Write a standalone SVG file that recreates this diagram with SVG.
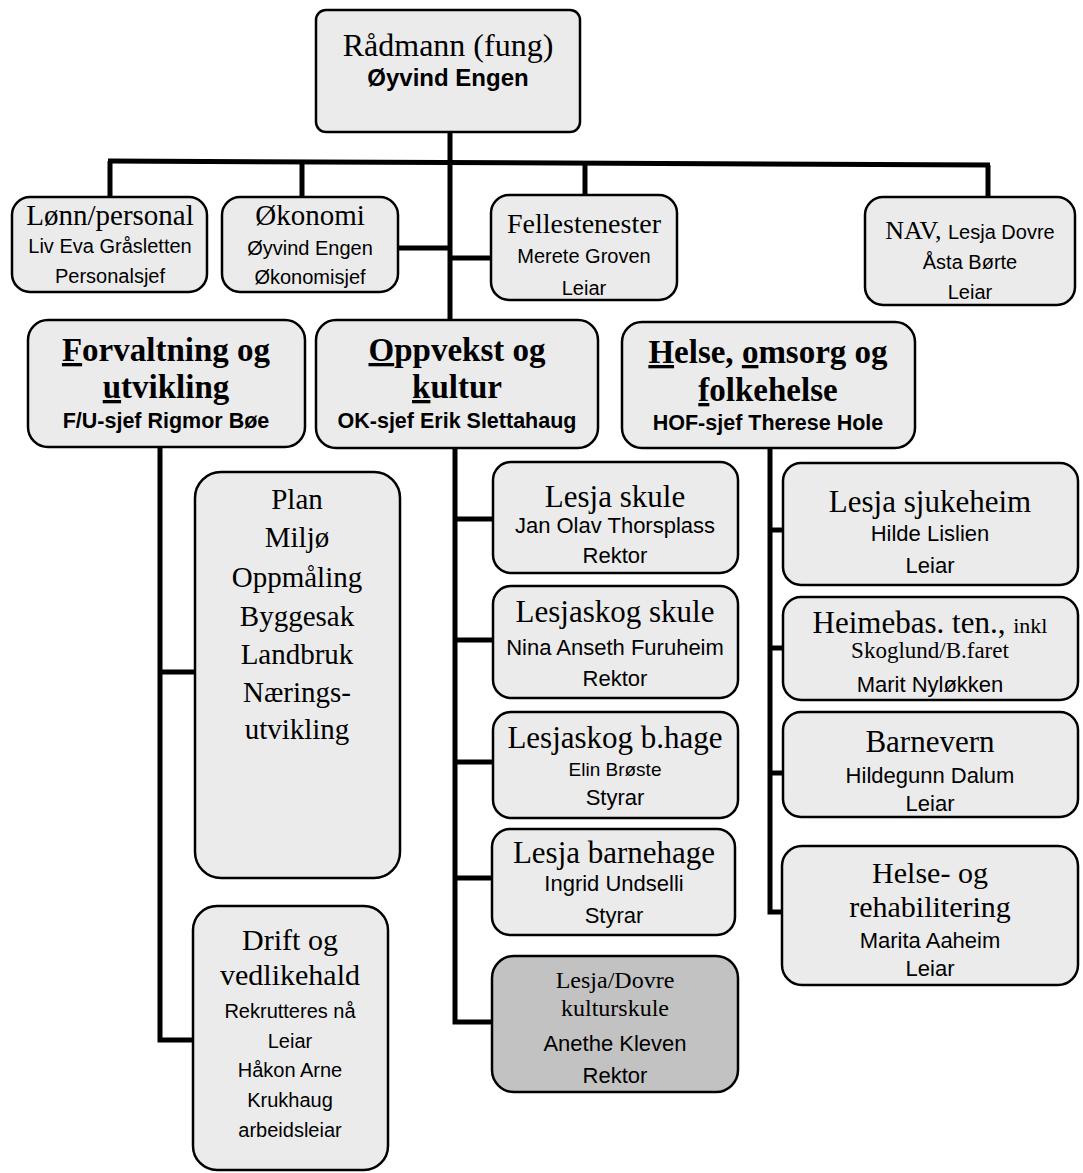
<svg xmlns="http://www.w3.org/2000/svg" width="1083" height="1173" viewBox="0 0 1083 1173">
<style>
.box{fill:#ebebeb;stroke:#000;stroke-width:2.5}
.dark{fill:#c2c2c2}
.con{fill:none;stroke:#000;stroke-width:5}
text{text-anchor:middle;fill:#000}
.s{font-family:"Liberation Serif","Times New Roman",serif}
.a{font-family:"Liberation Sans",Arial,sans-serif}
.t{font-size:31px}
.p{font-size:29px}
.h{font-size:33px;font-weight:bold}
.n{font-size:20px}
.m{font-size:22px}
.hb{font-size:21.5px;font-weight:bold}
.b{font-weight:bold}
.u{text-decoration:underline}
</style>
<rect width="1083" height="1173" fill="#fff"/>
<g id="connectors">
<line class="con" x1="450" y1="132" x2="450" y2="320"/>
<line class="con" x1="108" y1="161" x2="990" y2="165"/>
<line class="con" x1="110" y1="161" x2="110" y2="197"/>
<line class="con" x1="302" y1="162" x2="302" y2="197"/>
<line class="con" x1="585" y1="163" x2="585" y2="195"/>
<line class="con" x1="988" y1="165" x2="988" y2="197"/>
<line class="con" x1="398" y1="248" x2="450" y2="248"/>
<line class="con" x1="450" y1="258" x2="491" y2="258"/>
<polyline class="con" points="160,447 160,1040 193,1040"/>
<line class="con" x1="160" y1="672" x2="195" y2="672"/>
<polyline class="con" points="455,448 455,1022 492,1022"/>
<line class="con" x1="455" y1="519" x2="493" y2="519"/>
<line class="con" x1="455" y1="640" x2="493" y2="640"/>
<line class="con" x1="455" y1="762" x2="493" y2="762"/>
<line class="con" x1="455" y1="878" x2="492" y2="878"/>
<polyline class="con" points="770,448 770,912 782,912"/>
<line class="con" x1="770" y1="530" x2="783" y2="530"/>
<line class="con" x1="770" y1="648" x2="783" y2="648"/>
<line class="con" x1="770" y1="773" x2="783" y2="773"/>
</g>
<g id="radmann">
<rect class="box" x="316" y="10" width="264" height="122" rx="10"/>
<text class="s" x="448" y="56" font-size="32">Rådmann (fung)</text>
<text class="a b" x="448" y="86" font-size="24">Øyvind Engen</text>
</g>
<g id="lonn">
<rect class="box" x="12" y="197" width="195" height="95" rx="18"/>
<text class="s" x="110" y="225" font-size="29">Lønn/personal</text>
<text class="a n" x="110" y="253">Liv Eva Gråsletten</text>
<text class="a n" x="110" y="283">Personalsjef</text>
</g>
<g id="okonomi">
<rect class="box" x="222" y="197" width="176" height="95" rx="18"/>
<text class="s" x="310" y="225" font-size="29">Økonomi</text>
<text class="a n" x="310" y="255">Øyvind Engen</text>
<text class="a n" x="310" y="284">Økonomisjef</text>
</g>
<g id="fellestenester">
<rect class="box" x="491" y="195" width="186" height="105" rx="18"/>
<text class="s" x="584" y="233" font-size="28">Fellestenester</text>
<text class="a n" x="584" y="263">Merete Groven</text>
<text class="a n" x="584" y="295">Leiar</text>
</g>
<g id="nav">
<rect class="box" x="865" y="197" width="210" height="108" rx="18"/>
<text x="970" y="239"><tspan class="s" font-size="26">NAV, </tspan><tspan class="a n">Lesja Dovre</tspan></text>
<text class="a n" x="970" y="269">Åsta Børte</text>
<text class="a n" x="970" y="299">Leiar</text>
</g>
<g id="forvaltning">
<rect class="box" x="28" y="320" width="277" height="127" rx="20"/>
<text class="s h" x="166" y="361"><tspan class="u">F</tspan>orvaltning og</text>
<text class="s h" x="166" y="398"><tspan class="u">u</tspan>tvikling</text>
<text class="a hb" x="166" y="428">F/U-sjef Rigmor Bøe</text>
</g>
<g id="oppvekst">
<rect class="box" x="316" y="320" width="282" height="128" rx="20"/>
<text class="s h" x="457" y="361"><tspan class="u">O</tspan>ppvekst og</text>
<text class="s h" x="457" y="398"><tspan class="u">k</tspan>ultur</text>
<text class="a hb" x="457" y="428">OK-sjef Erik Slettahaug</text>
</g>
<g id="helse">
<rect class="box" x="622" y="322" width="293" height="126" rx="20"/>
<text class="s h" x="768" y="363"><tspan class="u">H</tspan>else, <tspan class="u">o</tspan>msorg og</text>
<text class="s h" x="768" y="401"><tspan class="u">f</tspan>olkehelse</text>
<text class="a hb" x="768" y="430">HOF-sjef Therese Hole</text>
</g>
<g id="plan">
<rect class="box" x="195" y="472" width="205" height="406" rx="26"/>
<text class="s p" x="297" y="509">Plan</text>
<text class="s p" x="297" y="547">Miljø</text>
<text class="s p" x="297" y="587">Oppmåling</text>
<text class="s p" x="297" y="626">Byggesak</text>
<text class="s p" x="297" y="664">Landbruk</text>
<text class="s p" x="297" y="702">Nærings-</text>
<text class="s p" x="297" y="739">utvikling</text>
</g>
<g id="drift">
<rect class="box" x="193" y="906" width="195" height="264" rx="24"/>
<text class="s" x="290" y="950" font-size="30">Drift og</text>
<text class="s" x="290" y="985" font-size="30">vedlikehald</text>
<text class="a n" x="290" y="1018">Rekrutteres nå</text>
<text class="a n" x="290" y="1048">Leiar</text>
<text class="a n" x="290" y="1077">Håkon Arne</text>
<text class="a n" x="290" y="1107">Krukhaug</text>
<text class="a n" x="290" y="1137">arbeidsleiar</text>
</g>
<g id="lesja-skule">
<rect class="box" x="493" y="462" width="245" height="111" rx="18"/>
<text class="s t" x="615" y="507">Lesja skule</text>
<text class="a m" x="615" y="533">Jan Olav Thorsplass</text>
<text class="a m" x="615" y="563">Rektor</text>
</g>
<g id="lesjaskog-skule">
<rect class="box" x="493" y="586" width="245" height="112" rx="18"/>
<text class="s t" x="615" y="622">Lesjaskog skule</text>
<text class="a m" x="615" y="655">Nina Anseth Furuheim</text>
<text class="a m" x="615" y="686">Rektor</text>
</g>
<g id="lesjaskog-bhage">
<rect class="box" x="493" y="712" width="245" height="106" rx="18"/>
<text class="s t" x="615" y="748">Lesjaskog b.hage</text>
<text class="a" x="615" y="776" font-size="19">Elin Brøste</text>
<text class="a m" x="615" y="805">Styrar</text>
</g>
<g id="lesja-barnehage">
<rect class="box" x="492" y="829" width="243" height="106" rx="18"/>
<text class="s t" x="614" y="863">Lesja barnehage</text>
<text class="a m" x="614" y="891">Ingrid Undselli</text>
<text class="a m" x="614" y="923">Styrar</text>
</g>
<g id="kulturskule">
<rect class="box dark" x="492" y="956" width="246" height="136" rx="22"/>
<text class="s" x="615" y="988" font-size="24">Lesja/Dovre</text>
<text class="s" x="615" y="1016" font-size="24">kulturskule</text>
<text class="a m" x="615" y="1051">Anethe Kleven</text>
<text class="a m" x="615" y="1083">Rektor</text>
</g>
<g id="sjukeheim">
<rect class="box" x="783" y="463" width="295" height="122" rx="18"/>
<text class="s t" x="930" y="512">Lesja sjukeheim</text>
<text class="a m" x="930" y="541">Hilde Lislien</text>
<text class="a m" x="930" y="573">Leiar</text>
</g>
<g id="heimebas">
<rect class="box" x="783" y="597" width="295" height="103" rx="18"/>
<text class="s" x="930" y="633"><tspan font-size="31">Heimebas. ten., </tspan><tspan font-size="22">inkl</tspan></text>
<text class="s" x="930" y="658" font-size="23">Skoglund/B.faret</text>
<text class="a m" x="930" y="692">Marit Nyløkken</text>
</g>
<g id="barnevern">
<rect class="box" x="783" y="712" width="295" height="105" rx="18"/>
<text class="s t" x="930" y="752">Barnevern</text>
<text class="a m" x="930" y="783">Hildegunn Dalum</text>
<text class="a m" x="930" y="811">Leiar</text>
</g>
<g id="helse-rehab">
<rect class="box" x="782" y="846" width="296" height="139" rx="20"/>
<text class="s" x="930" y="883" font-size="30">Helse- og</text>
<text class="s" x="930" y="917" font-size="30">rehabilitering</text>
<text class="a m" x="930" y="948">Marita Aaheim</text>
<text class="a m" x="930" y="976">Leiar</text>
</g>
</svg>
